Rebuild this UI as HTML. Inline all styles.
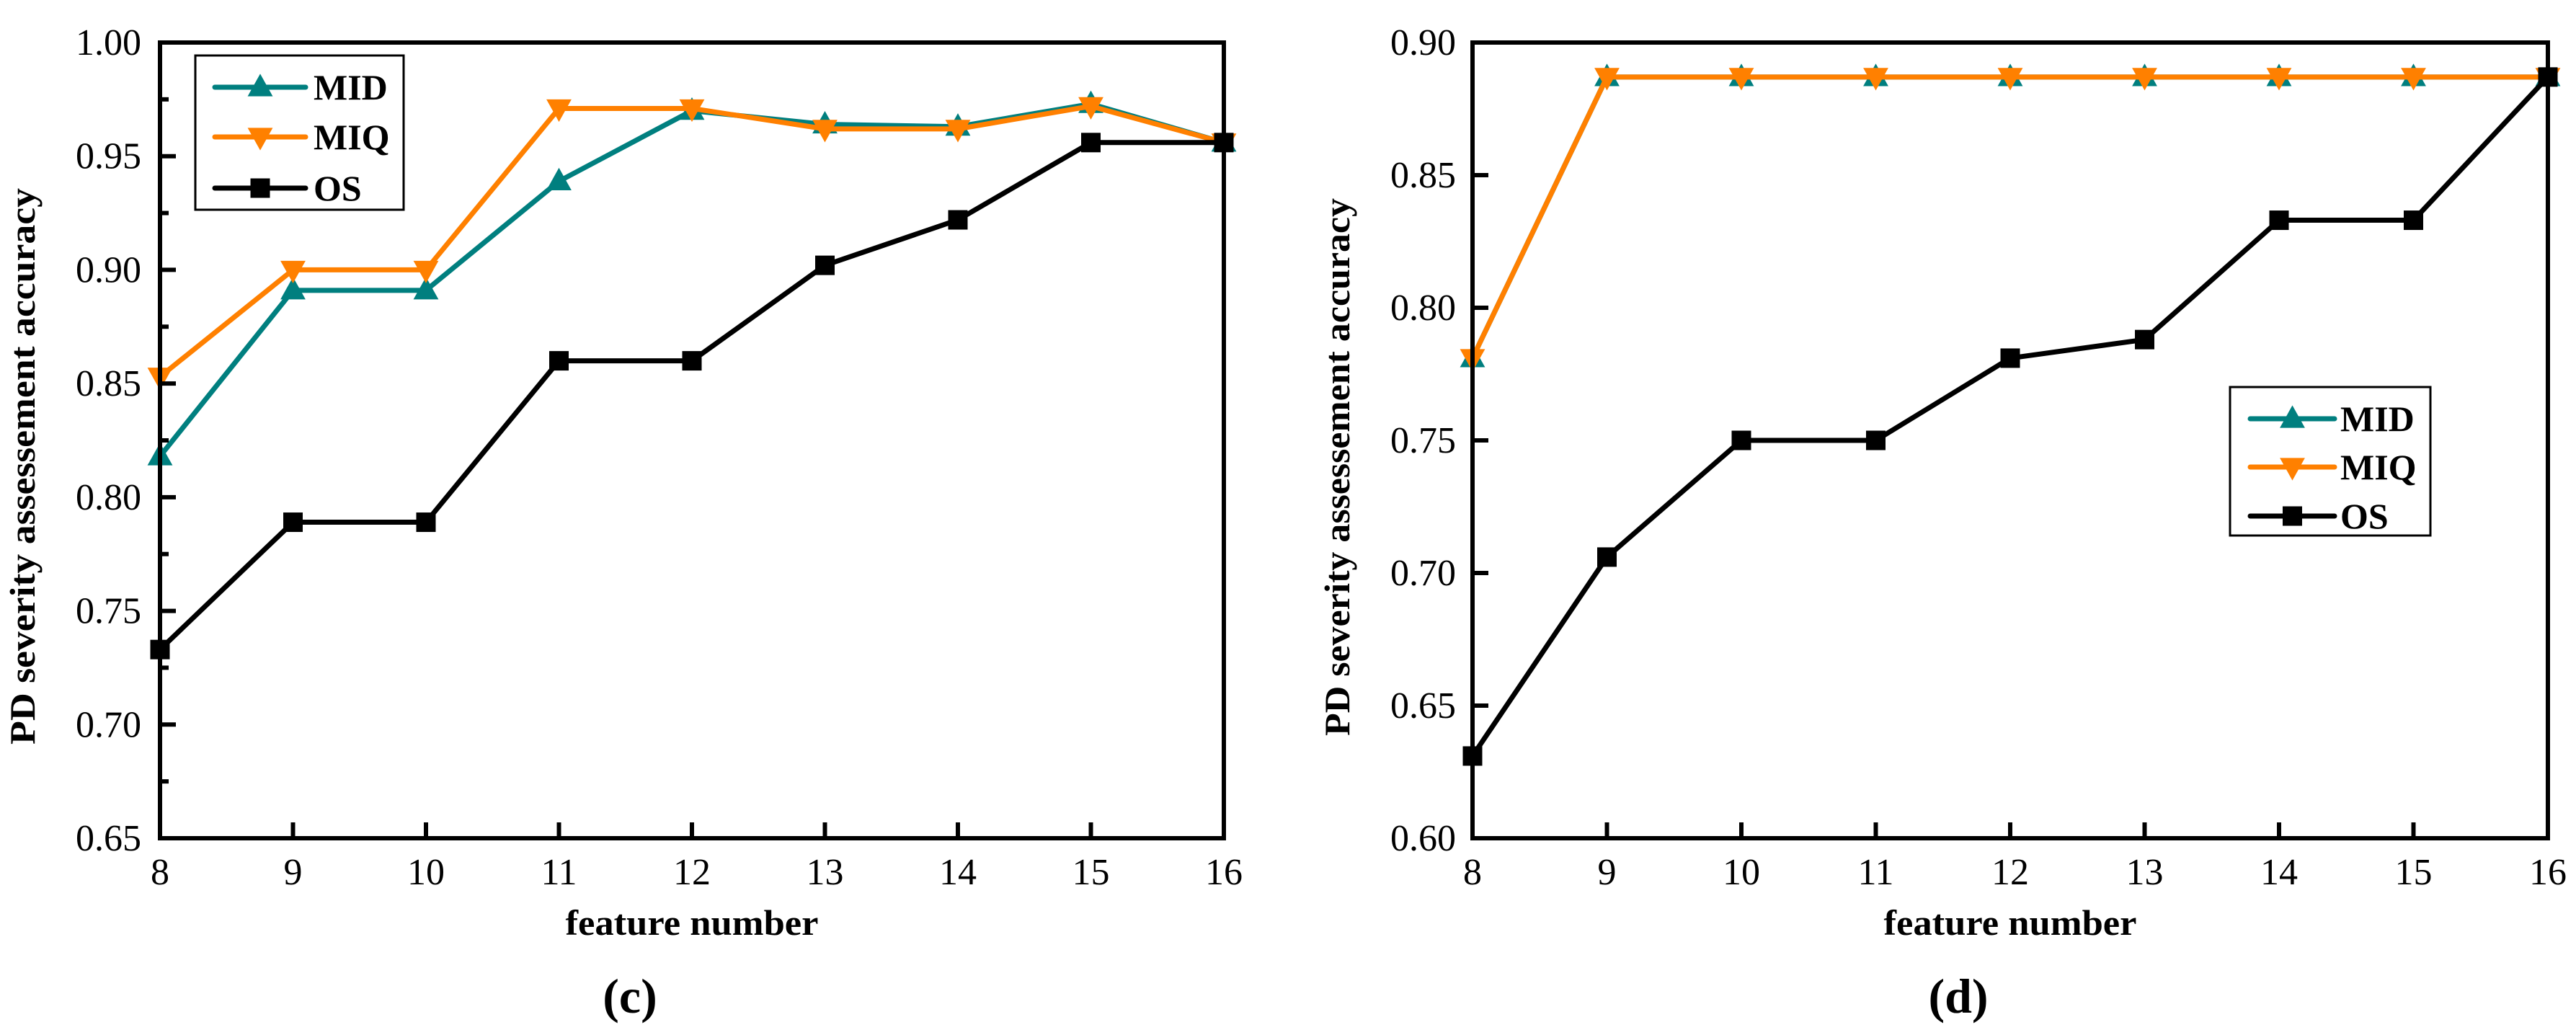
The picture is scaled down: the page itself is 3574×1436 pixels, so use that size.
<!DOCTYPE html>
<html><head><meta charset="utf-8"><style>
html,body{margin:0;padding:0;background:#fff}
svg{display:block}
text{font-family:"Liberation Serif",serif}
</style></head><body>
<svg id="svg" width="3574" height="1436" xmlns="http://www.w3.org/2000/svg"></svg>
<script>
const xCats=[8,9,10,11,12,13,14,15,16];
const cMID=[0.818,0.891,0.891,0.939,0.970,0.964,0.963,0.973,0.956];
const cMIQ=[0.853,0.900,0.900,0.971,0.971,0.962,0.962,0.972,0.956];
const cOS=[0.733,0.789,0.789,0.860,0.860,0.902,0.922,0.956,0.956];
const dMID=[0.781,0.887,0.887,0.887,0.887,0.887,0.887,0.887,0.887];
const dMIQ=[0.781,0.887,0.887,0.887,0.887,0.887,0.887,0.887,0.887];
const dOS=[0.631,0.706,0.750,0.750,0.781,0.788,0.833,0.833,0.887];
const cYTicks=["0.65","0.70","0.75","0.80","0.85","0.90","0.95","1.00"];
const dYTicks=["0.60","0.65","0.70","0.75","0.80","0.85","0.90"];
const seriesNames=["MID","MIQ","OS"];
const NS="http://www.w3.org/2000/svg";
const svg=document.getElementById('svg');
function mk(tag,attrs,parent){const e=document.createElementNS(NS,tag);for(const k in attrs)e.setAttribute(k,attrs[k]);(parent||svg).appendChild(e);return e;}
const colors={MID:"#007f7f",MIQ:"#ff8000",OS:"#000000"};
function marker(g,type,x,y,s){
  let e;
  if(type==="MID") e=mk('polygon',{points:`${x},${y-s*0.62} ${x-s*0.58},${y+s*0.42} ${x+s*0.58},${y+s*0.42}`,fill:colors.MID},g);
  else if(type==="MIQ") e=mk('polygon',{points:`${x},${y+s*0.62} ${x-s*0.58},${y-s*0.42} ${x+s*0.58},${y-s*0.42}`,fill:colors.MIQ},g);
  else e=mk('rect',{x:x-s*0.45,y:y-s*0.45,width:s*0.9,height:s*0.9,fill:"#000"},g);
  return e;
}
function panel(opt){
  const g=mk('g',{});
  
  
  const {x0,x1,y0,y1,ymin,ymax}=opt;
  const X=v=>x0+(v-xCats[0])/(xCats[xCats.length-1]-xCats[0])*(x1-x0);
  const Y=v=>y1-(v-ymin)/(ymax-ymin)*(y1-y0);
  const data={MID:opt.mid,MIQ:opt.miq,OS:opt.os};
  for(const s of ["MID","MIQ","OS"]){
    const sg=mk('g',{},g);
    
    
    const pts=xCats.map((c,i)=>X(c)+","+Y(data[s][i])).join(" ");
    const pl=mk('polyline',{points:pts,fill:"none",stroke:colors[s],"stroke-width":7,"stroke-linejoin":"round"},sg);
    
    
    xCats.forEach((c,i)=>{const m=marker(sg,s,X(c),Y(data[s][i]),30);
      
      });
  }
  const fr=mk('rect',{x:x0,y:y0,width:x1-x0,height:y1-y0,fill:"none",stroke:"#000","stroke-width":6},g);
  
  
  xCats.forEach(c=>{
    mk('line',{x1:X(c),x2:X(c),y1:y1,y2:y1-22,stroke:"#000","stroke-width":6},g);
    const t=mk('text',{x:X(c),y:1227,"font-size":52,"text-anchor":"middle"},g);t.textContent=c;
    
    
  });
  opt.yticks.forEach(lab=>{
    const v=parseFloat(lab);
    mk('line',{x1:x0,x2:x0+22,y1:Y(v),y2:Y(v),stroke:"#000","stroke-width":6},g);
    const t=mk('text',{x:opt.labX,y:Y(v)+17,"font-size":52,"text-anchor":"end"},g);t.textContent=lab;
    
    
  });
  if(opt.minor){for(let i=0;i<opt.yticks.length-1;i++){const v=parseFloat(opt.yticks[i])+0.025;
    mk('line',{x1:x0,x2:x0+12,y1:Y(v),y2:Y(v),stroke:"#000","stroke-width":6},g);}}
  const xt=mk('text',{x:(x0+x1)/2,y:1297,"font-size":50,"font-weight":"bold","text-anchor":"middle",textLength:351,lengthAdjust:"spacingAndGlyphs"},g);
  xt.textContent="feature number";
  
  
  const yt=mk('text',{x:0,y:0,"font-size":50,"font-weight":"bold","text-anchor":"middle",textLength:opt.ytLen,lengthAdjust:"spacingAndGlyphs",transform:`translate(${opt.ytX},${opt.ytY}) rotate(-90)`},g);
  yt.textContent="PD severity assessement accuracy";
  
  
  const L=opt.leg;
  const lg=mk('g',{},g);
  
  
  mk('rect',{x:L.x,y:L.y,width:L.w,height:L.h,fill:"#fff",stroke:"#000","stroke-width":3},lg);
  seriesNames.forEach((s,i)=>{
    const ey=L.rows[i];
    const eg=mk('g',{},lg);
    
    
    mk('line',{x1:L.lx0,x2:L.lx1,y1:ey,y2:ey,stroke:colors[s],"stroke-width":7,"stroke-linecap":"round"},eg);
    marker(eg,s,(L.lx0+L.lx1)/2,ey,30);
    const t=mk('text',{x:L.tx,y:ey+17,"font-size":50,"font-weight":"bold"},eg);t.textContent=s;
  });
  const cap=mk('text',{x:opt.capX,y:1405,"font-size":68,"font-weight":"bold","text-anchor":"middle"},g);
  cap.textContent=opt.cap;
  
  
}
panel({name:'chart-c',x0:222,x1:1698,y0:59,y1:1163,ymin:0.65,ymax:1.00,yticks:cYTicks,minor:true,labX:196,
  mid:cMID,miq:cMIQ,os:cOS,ytX:48,ytY:647,ytLen:772,
  leg:{x:271,y:77,w:289,h:214,rows:[121,190,261],lx0:298,lx1:424,tx:435},cap:"(c)",capX:874});
panel({name:'chart-d',x0:2043,x1:3535,y0:59,y1:1163,ymin:0.60,ymax:0.90,yticks:dYTicks,minor:false,labX:2020,
  mid:dMID,miq:dMIQ,os:dOS,ytX:1872,ytY:648,ytLen:746,
  leg:{x:3094,y:537,w:278,h:206,rows:[581,648,716],lx0:3122,lx1:3239,tx:3247},cap:"(d)",capX:2717});
</script>
</body></html>
